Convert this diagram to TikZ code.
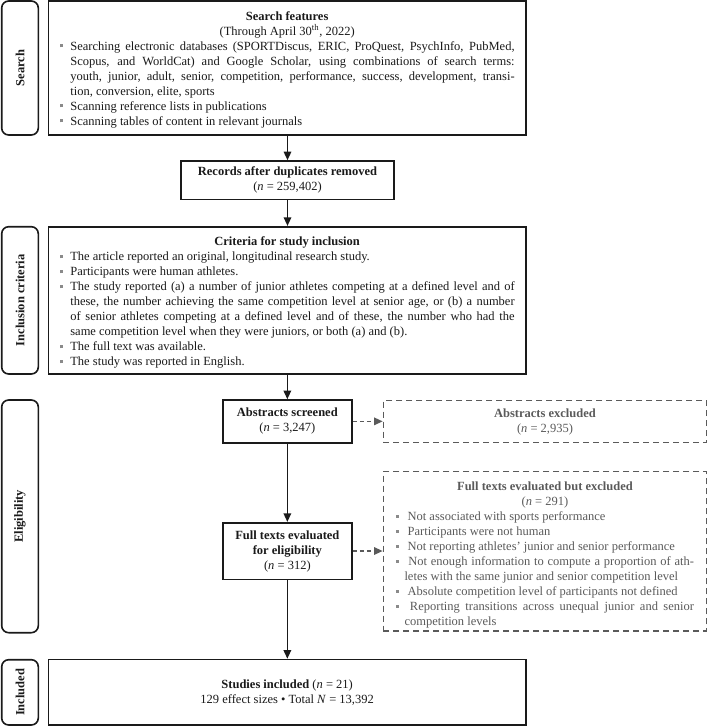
\documentclass[tikz,border=0pt]{standalone}
\usepackage{fontspec}
\setmainfont{Liberation Serif}
\usetikzlibrary{arrows.meta}
\definecolor{ink}{HTML}{1A1A1A}
\definecolor{exgray}{HTML}{5A5A5A}
\definecolor{bulgray}{HTML}{8A8A8A}
\newcommand{\bulmark}{\textcolor{bulgray}{\rule[2.6pt]{3pt}{3pt}}}
\newcommand{\bul}[1][10.7pt]{\par\noindent\hangindent=#1\hangafter=1\makebox[#1][l]{\bulmark}}
\newcommand{\ctitle}[1]{{\centering #1\par}}
\tikzset{
  txt/.style={font=\fontsize{12.5}{15}\selectfont},
  box/.style={txt, draw=ink, line width=1.6pt, rectangle, inner sep=0pt, text=ink, align=center},
  sidebox/.style={draw=ink, line width=1.6pt, rounded corners=7pt, inner sep=0pt, rotate=90,
    font=\fontsize{12.5}{15}\selectfont\bfseries, text=ink, minimum height=36.6pt},
  exbox/.style={txt, draw=exgray, dash pattern=on 6pt off 4pt, line width=1.3pt, inner sep=0pt,
    text=exgray, align=center},
  arr/.style={draw=ink, line width=1.4pt, -{Triangle[length=8.5pt,width=7.5pt]}},
  exarr/.style={draw=exgray, line width=1.3pt, dash pattern=on 4pt off 3pt,
    -{Triangle[length=8.5pt,width=7.5pt]}},
}
\begin{document}
\begin{tikzpicture}[x=1pt,y=-1pt]
\useasboundingbox (0,0) rectangle (708,726);

% side labels
\node[sidebox, minimum width=134pt] (sSearch) at (20,68) {Search};
\node[sidebox, minimum width=147.3pt] (sIncl) at (20,300.35) {Inclusion criteria};
\node[sidebox, minimum width=232.7pt] (sElig) at (20,516.35) {Eligibility};
\node[sidebox, minimum width=65.3pt] (sIncd) at (20,692.35) {Included};

% search box
\node[box, align=justify, text width=455pt, minimum width=477.7pt, minimum height=134pt] (search) at (287.15,68)
{\tolerance=10000\hbadness=10000\parindent=0pt
\ctitle{\bfseries Search features}
\ctitle{(Through April 30\textsuperscript{th}, 2022)}
\bul Searching electronic databases (SPORTDiscus, ERIC, ProQuest, PsychInfo, PubMed,\linebreak
Scopus, and WorldCat) and Google Scholar, using combinations of search terms:\linebreak
youth, junior, adult, senior, competition, performance, success, development, transi-\linebreak
tion, conversion, elite, sports
\bul Scanning reference lists in publications
\bul Scanning tables of content in relevant journals\par\vspace*{-3pt}};

% records
\node[box, minimum width=213pt, minimum height=38.5pt] (records) at (287.5,180.25)
{\textbf{Records after duplicates removed}\\(\textit{n} = 259,402)};

% criteria
\node[box, align=justify, text width=455pt, minimum width=477.7pt, minimum height=147.3pt] (criteria) at (287.15,300.35)
{\tolerance=10000\hbadness=10000\parindent=0pt
\ctitle{\bfseries Criteria for study inclusion}
\bul The article reported an original, longitudinal research study.
\bul Participants were human athletes.
\bul The study reported (a) a number of junior athletes competing at a defined level and of\linebreak
these, the number achieving the same competition level at senior age, or (b) a number\linebreak
of senior athletes competing at a defined level and of these, the number who had the\linebreak
same competition level when they were juniors, or both (a) and (b).
\bul The full text was available.
\bul The study was reported in English.\par\vspace*{-5pt}};

% abstracts screened
\node[box, minimum width=129.3pt, minimum height=42.7pt] (abstracts) at (287.35,421.35)
{\textbf{Abstracts screened}\\(\textit{n} = 3,247)};

% abstracts excluded
\node[exbox, minimum width=323.4pt, minimum height=42.2pt] (absex) at (545,421.6)
{\textbf{Abstracts excluded}\\(\textit{n} = 2,935)};

% full texts evaluated
\node[box, minimum width=129.3pt, minimum height=56.6pt] (fulltexts) at (287.35,551)
{\textbf{Full texts evaluated}\\\textbf{for eligibility}\\(\textit{n} = 312)};

% full texts excluded
\node[exbox, align=justify, text width=298pt, minimum width=323.4pt, minimum height=159.3pt] (ftex) at (545,551.35)
{\tolerance=10000\hbadness=10000\parindent=0pt
\ctitle{\bfseries Full texts evaluated but excluded}
\ctitle{(\textit{n} = 291)}
\bul[8.5pt] Not associated with sports performance
\bul[8.5pt] Participants were not human
\bul[8.5pt] Not reporting athletes’ junior and senior performance
\bul[8.5pt] Not enough information to compute a proportion of ath-\linebreak
letes with the same junior and senior competition level
\bul[8.5pt] Absolute competition level of participants not defined
\bul[8.5pt] Reporting transitions across unequal junior and senior\linebreak
competition levels\par\vspace*{-7pt}};

% included
\node[box, minimum width=477.7pt, minimum height=65.5pt] (included) at (287.15,692.25)
{\textbf{Studies included} (\textit{n} = 21)\\129 effect sizes • Total \textit{N} = 13,392};

% connectors
\draw[arr] (search.south -| records.north) -- (records.north);
\draw[arr] (records.south) -- (records.south |- criteria.north);
\draw[arr] (abstracts.north |- criteria.south) -- (abstracts.north);
\draw[arr] (abstracts.south) -- (fulltexts.north);
\draw[arr] (fulltexts.south) -- (fulltexts.south |- included.north);
\draw[exarr] (abstracts.east) -- (abstracts.east -| absex.west);
\draw[exarr] (fulltexts.east) -- (fulltexts.east -| ftex.west);
\end{tikzpicture}
\end{document}
